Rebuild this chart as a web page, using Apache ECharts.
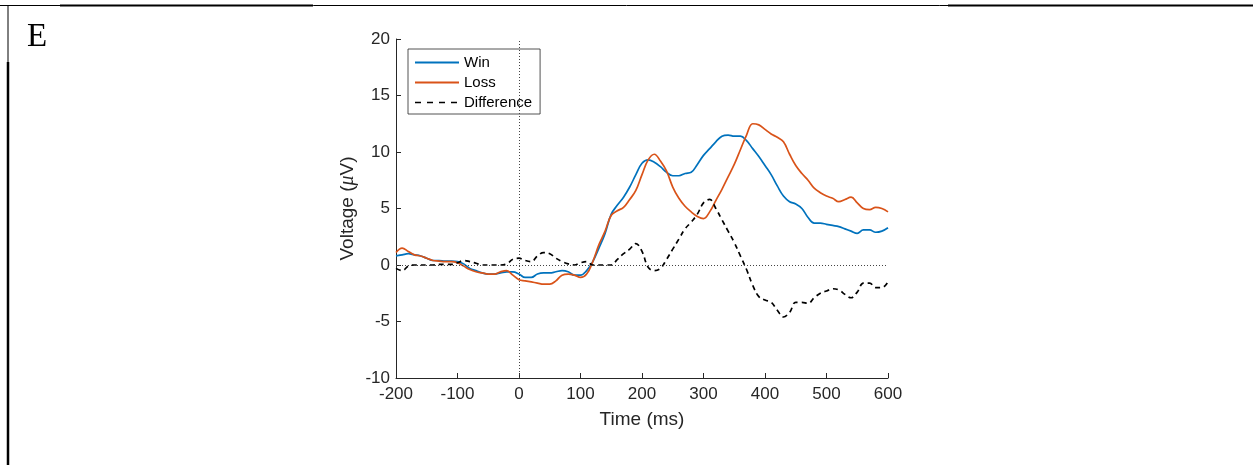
<!DOCTYPE html>
<html>
<head>
<meta charset="utf-8">
<script src="https://cdn.jsdelivr.net/npm/echarts@6/dist/echarts.min.js"></script>
<style>
  html, body { margin: 0; padding: 0; background: #fff; }
  #main { width: 1253px; height: 465px; }
</style>
</head>
<body>
<div id="main"></div>
<script>
// time points (ms)
var times = [-200, -190, -180, -170, -160, -150, -140, -130, -120, -110,
  -100, -90, -80, -70, -60, -50, -40, -30, -20, -10,
  0, 10, 20, 30, 40, 50, 60, 70, 80, 90,
  100, 110, 120, 130, 140, 150, 160, 170, 180, 190,
  200, 210, 220, 230, 240, 250, 260, 270, 280, 290,
  300, 310, 320, 330, 340, 350, 360, 370, 380, 390,
  400, 410, 420, 430, 440, 450, 460, 470, 480, 490,
  500, 510, 520, 530, 540, 550, 560, 570, 580, 590, 600];

var win = [0.8, 0.9, 1.0, 0.9, 0.8, 0.6, 0.4, 0.4, 0.35, 0.35,
  0.3, 0.1, -0.3, -0.5, -0.7, -0.8, -0.8, -0.7, -0.6, -0.6,
  -0.8, -1.1, -1.1, -0.8, -0.7, -0.7, -0.6, -0.5, -0.6, -0.9,
  -0.9, -0.5, 0.3, 1.5, 2.8, 4.5, 5.3, 6.0, 6.9, 8.0,
  9.0, 9.3, 9.1, 8.7, 8.2, 7.9, 7.9, 8.1, 8.2, 8.9,
  9.7, 10.3, 10.9, 11.4, 11.5, 11.4, 11.4, 11.0, 10.3, 9.6,
  8.8, 8.0, 7.0, 6.1, 5.6, 5.4, 5.0, 4.2, 3.7, 3.7,
  3.6, 3.5, 3.4, 3.2, 3.0, 2.8, 3.1, 3.1, 2.9, 3.0, 3.3];

var loss = [1.1, 1.5, 1.2, 0.9, 0.8, 0.6, 0.4, 0.35, 0.3, 0.3,
  0.2, -0.1, -0.4, -0.6, -0.7, -0.8, -0.8, -0.6, -0.5, -0.9,
  -1.3, -1.4, -1.5, -1.6, -1.7, -1.7, -1.4, -0.9, -0.8, -0.9,
  -1.1, -0.8, 0.3, 1.8, 3.0, 4.4, 4.8, 5.1, 5.8, 6.6,
  8.0, 9.3, 9.8, 9.2, 8.3, 6.9, 5.9, 5.2, 4.7, 4.3,
  4.1, 4.7, 5.7, 6.7, 7.8, 8.9, 10.2, 11.5, 12.5, 12.4,
  12.0, 11.6, 11.3, 10.9, 9.8, 8.8, 8.1, 7.5, 6.8, 6.4,
  6.1, 5.9, 5.6, 5.8, 6.0, 5.5, 5.0, 4.9, 5.1, 5.0, 4.7];

var diff = [-0.3, -0.5, -0.1, 0.0, 0.0, 0.0, 0.0, 0.05, 0.05, 0.05,
  0.2, 0.4, 0.3, 0.15, 0.0, 0.0, 0.0, 0.0, 0.1, 0.5,
  0.6, 0.4, 0.3, 0.8, 1.1, 1.0, 0.6, 0.3, 0.1, 0.0,
  0.2, 0.3, 0.0, 0.0, 0.0, 0.0, 0.5, 1.0, 1.4, 1.9,
  1.2, -0.2, -0.5, -0.3, 0.5, 1.4, 2.3, 3.2, 3.8, 4.5,
  5.5, 5.8, 5.0, 4.0, 3.0, 2.0, 0.8, -0.4, -1.8, -2.8,
  -3.1, -3.3, -4.0, -4.6, -4.2, -3.3, -3.3, -3.4, -2.9, -2.5,
  -2.3, -2.1, -2.2, -2.6, -2.9, -2.4, -1.6, -1.6, -2.0, -2.0, -1.5];

var seriesNames = ['Win', 'Loss', 'Difference'];

function pairs(ys) {
  return times.map(function (t, i) { return [t, ys[i]]; });
}

var myChart = echarts.init(document.getElementById('main'));
var axisColor = '#262626';
var font = 'Liberation Sans, Arial, Helvetica, sans-serif';

var option = {
  animation: false,
  backgroundColor: '#fff',
  grid: { left: 396, right: 365, top: 39, bottom: 87 },
  legend: {
    data: [
      { name: seriesNames[0] },
      { name: seriesNames[1] },
      { name: seriesNames[2], lineStyle: { type: [6, 6], width: 1.5 } }
    ],
    orient: 'vertical',
    left: 408,
    top: 49,
    itemWidth: 44,
    itemHeight: 14,
    itemGap: 5,
    padding: [6, 8, 4, 6],
    borderColor: axisColor,
    borderWidth: 0.8,
    backgroundColor: '#fff',
    itemStyle: { opacity: 0 },
    textStyle: { fontFamily: font, fontSize: 15, color: '#000' },
    selectedMode: false
  },
  xAxis: {
    type: 'value',
    min: -200,
    max: 600,
    interval: 100,
    name: 'Time (ms)',
    nameLocation: 'middle',
    nameGap: 32,
    nameTextStyle: { fontFamily: font, fontSize: 19, color: axisColor },
    axisLine: { onZero: false, lineStyle: { color: axisColor, width: 1 } },
    axisTick: { inside: true, length: 5, lineStyle: { color: axisColor } },
    axisLabel: { fontFamily: font, fontSize: 17, color: axisColor, margin: 8 },
    splitLine: { show: false }
  },
  yAxis: {
    type: 'value',
    min: -10,
    max: 20,
    interval: 5,
    name: '{a|Voltage (}{b|μ}{a|V)}',
    nameLocation: 'middle',
    nameGap: 38,
    nameTextStyle: {
      rich: {
        a: { fontFamily: font, fontSize: 19, color: axisColor },
        b: { fontFamily: 'Liberation Serif, Times New Roman, serif', fontStyle: 'italic', fontSize: 20, color: axisColor }
      }
    },
    axisLine: { show: true, onZero: false, lineStyle: { color: axisColor, width: 1 } },
    axisTick: { show: true, inside: true, length: 5, lineStyle: { color: axisColor } },
    axisLabel: { fontFamily: font, fontSize: 17, color: axisColor, margin: 6 },
    splitLine: { show: false }
  },
  series: [
    {
      name: 'Win',
      type: 'line',
      data: pairs(win),
      smooth: 0.4,
      symbol: 'none',
      lineStyle: { color: '#0072BD', width: 1.7 },
      itemStyle: { color: '#0072BD' },
      z: 3,
      markLine: {
        silent: true,
        symbol: 'none',
        label: { show: false },
        lineStyle: { color: '#444', type: [1, 2], width: 1 },
        data: [{ xAxis: 0 }, { yAxis: 0 }]
      }
    },
    {
      name: 'Loss',
      type: 'line',
      data: pairs(loss),
      smooth: 0.4,
      symbol: 'none',
      lineStyle: { color: '#D95319', width: 1.7 },
      itemStyle: { color: '#D95319' },
      z: 3
    },
    {
      name: 'Difference',
      type: 'line',
      data: pairs(diff),
      smooth: 0.4,
      symbol: 'none',
      lineStyle: { color: '#000', width: 1.7, type: [5, 4] },
      itemStyle: { color: '#000' },
      z: 4
    }
  ],
  graphic: [
    { type: 'line', shape: { x1: 0, y1: 5.5, x2: 1253, y2: 5.5 }, style: { stroke: '#000', lineWidth: 1 } },
    { type: 'line', shape: { x1: 60, y1: 5.5, x2: 313, y2: 5.5 }, style: { stroke: '#000', lineWidth: 2 } },
    { type: 'line', shape: { x1: 948, y1: 5.5, x2: 1253, y2: 5.5 }, style: { stroke: '#000', lineWidth: 2 } },
    { type: 'line', shape: { x1: 8, y1: 5, x2: 8, y2: 465 }, style: { stroke: '#000', lineWidth: 1 } },
    { type: 'line', shape: { x1: 8, y1: 62, x2: 8, y2: 465 }, style: { stroke: '#000', lineWidth: 2.5 } },
    {
      type: 'text', left: 27, top: 21,
      style: { text: 'E', font: '33px "Liberation Serif", "Times New Roman", serif', fill: '#000' }
    }
  ]
};

myChart.setOption(option);
</script>
</body>
</html>
